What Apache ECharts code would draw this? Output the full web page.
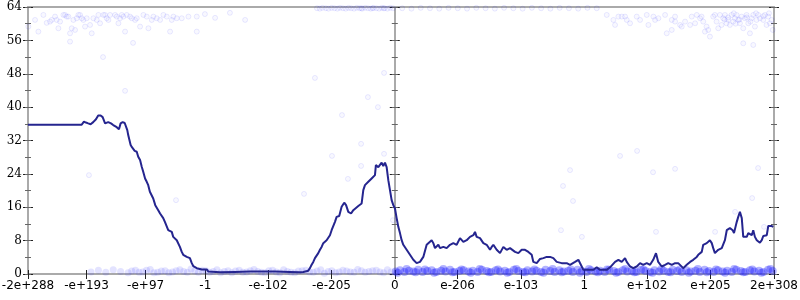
<!DOCTYPE html>
<html><head><meta charset="utf-8">
<script src="https://cdn.jsdelivr.net/npm/echarts@6/dist/echarts.min.js"></script>
<style>html,body{margin:0;padding:0;background:#fff}#c{width:800px;height:300px}</style>
</head><body><div id="c"></div>
<script>
// x axis: binary-exponent position of the (signed) float; ticks with their labels
const tickValues = [-1980,-1664,-1345,-1023,-684,-342,0,339,681,1023,1362,1704,2047];
const tickLabels = ['-2e+288','-e+193','-e+97','-1','-e-102','-e-205','0','e-206','e-103','1','e+102','e+205','2e+308'];
const xMin = -1980, xMax = 2047;
const yMin = 0, yMax = 64, yStep = 8, yMinorStep = 4;

// moving-average line
const lineX = [-1980,-1690,-1678,-1667,-1655,-1642,-1628,-1613,-1601,-1588,-1577,-1564,-1555,-1547,-1532,-1520,-1501,-1489,-1480,-1469,-1458,-1451,-1444,-1439,-1433,-1426,-1419,-1412,-1404,-1393,-1385,-1375,-1366,-1358,-1348,-1339,-1331,-1322,-1312,-1304,-1293,-1285,-1277,-1267,-1258,-1250,-1241,-1231,-1223,-1214,-1204,-1196,-1187,-1177,-1169,-1160,-1150,-1142,-1123,-1106,-1096,-1088,-1079,-1069,-1042,-1015,-1007,-998,-944,-863,-782,-717,-647,-566,-512,-494,-467,-458,-449,-440,-431,-422,-413,-404,-395,-386,-377,-368,-359,-350,-341,-323,-314,-300,-287,-273,-263,-251,-236,-224,-197,-179,-170,-161,-143,-125,-107,-102,-89,-80,-71,-62,-53,-44,-35,-26,-17,-8,1,10,19,28,37,46,55,64,82,100,118,136,154,172,181,199,208,217,226,235,244,262,280,298,316,334,352,370,388,406,424,433,442,460,478,496,514,523,532,550,568,586,604,622,649,667,685,703,721,739,748,766,784,802,820,838,856,874,901,928,946,973,991,1009,1018,1054,1072,1090,1108,1144,1162,1171,1189,1207,1225,1243,1252,1270,1287,1306,1324,1341,1360,1378,1395,1410,1422,1441,1459,1476,1495,1513,1530,1557,1576,1594,1611,1630,1638,1657,1665,1684,1701,1711,1719,1728,1746,1765,1773,1782,1792,1809,1824,1831,1846,1854,1863,1873,1881,1890,1900,1908,1917,1927,1935,1944,1954,1971,1981,1989,2008,2016,2035,2043];
const lineY = [35.8,35.8,36.5,36.3,36.1,35.9,36.4,37.1,38.0,38.0,37.6,36.1,35.8,36.4,36.1,35.7,35.2,34.7,36.1,36.4,36.2,35.8,34.5,33.3,33.2,30.9,30.4,30.5,29.5,29.3,28.1,27.3,25.7,24.5,22.9,22.1,21.3,19.7,19.7,18.1,16.5,16.1,15.3,14.5,14.4,13.4,12.5,12.1,10.5,10.1,10.1,8.9,8.6,8.1,7.7,6.5,5.3,4.6,4.1,3.8,2.6,1.9,1.8,1.4,1.1,1.1,0.6,0.4,0.4,0.5,0.6,0.6,0.6,0.5,0.4,0.5,0.8,1.4,2.2,2.9,3.8,4.1,5.0,5.8,6.5,7.4,7.7,8.1,8.1,9.3,10.5,12.5,13.7,13.9,16.1,17.1,16.5,14.9,14.5,15.3,16.3,16.9,20.1,21.3,22.1,22.9,23.7,26.1,25.6,25.3,26.7,25.9,26.7,25.6,22.5,20.1,17.7,16.5,15.7,13.4,11.3,9.8,8.1,7.0,7.0,5.8,4.6,3.4,2.6,2.9,4.1,7.0,7.4,8.1,7.4,6.2,6.5,7.0,6.2,6.5,6.2,7.0,7.4,7.0,8.6,7.7,8.1,8.9,9.3,10.1,8.9,8.6,7.4,7.0,5.8,6.5,7.0,5.8,5.0,6.5,5.8,6.2,5.3,5.0,5.8,5.8,5.3,4.6,2.9,2.6,3.6,3.8,4.1,4.1,3.8,2.9,2.6,2.6,2.2,2.9,3.4,1.8,1.0,1.0,1.0,1.6,1.0,1.0,1.6,1.8,2.9,3.4,2.9,3.8,2.9,1.8,1.4,1.8,2.6,2.2,2.6,2.2,3.4,5.0,2.9,1.8,2.2,2.6,2.2,2.6,2.6,1.4,2.2,2.9,3.4,4.1,4.6,5.3,7.0,7.4,8.1,7.4,6.2,5.0,5.8,6.2,6.5,8.1,10.5,11.0,10.5,9.8,12.5,13.7,14.9,13.4,8.9,9.3,8.9,9.8,10.1,9.3,10.5,8.9,8.1,7.5,8.1,9.1,9.3,11.5,11.5,11.3];

// individual samples (faint points)
const topLeftPts = [[-1978,59.3],[-1942,60.9],[-1924,58.1],[-1897,62.1],[-1879,60.2],[-1861,60.5],[-1852,60.9],[-1834,61.7],[-1825,60.9],[-1816,58.9],[-1807,60.5],[-1789,62.1],[-1780,62.1],[-1771,61.7],[-1762,61.7],[-1753,57.7],[-1753,55.7],[-1744,58.9],[-1735,60.9],[-1726,58.5],[-1717,61.3],[-1708,62.1],[-1699,62.1],[-1690,61.3],[-1681,60.9],[-1672,59.3],[-1663,61.3],[-1645,59.7],[-1636,57.7],[-1627,61.3],[-1609,60.9],[-1600,62.1],[-1591,60.1],[-1573,62.1],[-1564,62.1],[-1555,61.3],[-1546,60.9],[-1537,62.1],[-1510,62.1],[-1501,61.7],[-1492,60.1],[-1483,61.3],[-1474,62.1],[-1465,61.7],[-1456,58.1],[-1447,62.1],[-1429,61.7],[-1420,61.3],[-1402,60.9],[-1393,61.3],[-1375,59.3],[-1357,62.1],[-1339,61.7],[-1330,58.9],[-1312,60.9],[-1303,61.7],[-1285,61.3],[-1267,60.9],[-1249,62.1],[-1231,61.7],[-1213,58.1],[-1204,60.9],[-1195,61.7],[-1177,61.3],[-1150,61.3],[-1114,61.7],[-1069,58.1],[-1069,61.7],[-1025,62.3],[-970,61.4],[-890,62.6],[-808,60.9]];
const topRightPts = [[1144,62.1],[1180,60.9],[1189,59.7],[1207,61.7],[1225,61.7],[1243,61.7],[1252,60.9],[1270,60.1],[1306,61.7],[1324,60.9],[1360,62.1],[1369,59.7],[1396,61.7],[1405,60.9],[1423,61.3],[1459,62.1],[1468,57.7],[1495,60.9],[1495,58.5],[1513,61.7],[1513,60.5],[1540,59.7],[1549,59.3],[1567,60.5],[1594,59.7],[1603,61.7],[1621,60.1],[1630,62.1],[1648,61.3],[1656,61.7],[1665,60.5],[1674,58.1],[1683,59.3],[1692,58.5],[1701,56.9],[1719,61.7],[1728,62.1],[1737,60.5],[1746,58.9],[1755,62.1],[1764,59.7],[1773,61.3],[1782,62.1],[1791,60.1],[1800,60.9],[1809,59.7],[1818,62.1],[1827,60.5],[1836,61.3],[1845,62.1],[1854,60.9],[1863,60.1],[1872,61.7],[1881,55.3],[1881,58.9],[1890,61.3],[1899,62.1],[1908,60.1],[1917,57.7],[1926,61.3],[1935,62.1],[1935,54.9],[1944,59.3],[1953,60.9],[1962,62.1],[1971,61.3],[1989,60.9],[1998,62.1],[2007,59.7],[2016,61.7],[2025,60.1],[2034,60.9],[2040,58.5],[1800,61.5],[1830,62.5],[1860,61.0],[1900,61.5],[1950,62.5],[1990,61.8],[2020,62.5],[1780,61.0],[1840,60.0],[1920,60.5]];
const topEdgePts = [[-420,63.7],[-405,63.6],[-390,63.8],[-372,63.7],[-358,63.6],[-341,63.8],[-326,63.7],[-310,63.6],[-296,63.8],[-280,63.7],[-265,63.6],[-250,63.8],[-236,63.7],[-220,63.6],[-205,63.8],[-190,63.7],[-176,63.6],[-160,63.8],[-145,63.7],[-130,63.6],[-115,63.8],[-100,63.7],[-85,63.6],[-70,63.8],[-55,63.7],[-40,63.6],[-25,63.8],[-10,63.7],[-180,63.7],[-120,63.7],[-60,63.7],[40,63.7],[90,63.6],[140,63.8],[190,63.7],[240,63.6],[290,63.8],[340,63.7],[390,63.6],[440,63.8],[490,63.7],[540,63.6],[590,63.8],[640,63.7],[690,63.6],[740,63.8],[790,63.7],[840,63.6],[890,63.8],[940,63.7],[990,63.6],[1040,63.8],[1090,63.7]];
const scatteredPts = [[-1575,52.0],[-1456,43.9],[-1413,55.4],[-1651,23.7],[-1181,17.7],[-145,42.4],[-91,40.0],[-285,38.1],[-182,31.2],[-339,28.3],[-182,25.9],[-253,22.8],[-490,19.2],[-58,28.8],[-10,12.9],[1216,28.3],[1308,29.5],[946,24.9],[908,21.1],[962,17.5],[1394,24.4],[1513,25.2],[1961,25.4],[1929,18.2],[1410,10.1],[897,10.5],[1010,8.9],[1729,10.1],[1993,11.3],[1837,14.9],[-431,47.0],[-58,48.2]];
const bottomLeftPts = [[-1640,0.5],[-1600,0.9],[-1560,0.4],[-1520,1.0],[-1480,0.6],[-1440,0.3],[-1400,0.9],[-1360,0.5],[-1320,1.1],[-1280,0.4],[-1240,0.8],[-1200,0.5],[-1160,1.0],[-1120,0.4],[-1080,0.7],[-1040,0.9],[-1000,0.4],[-960,1.0],[-920,0.6],[-880,0.3],[-840,0.9],[-800,0.5],[-760,1.1],[-720,0.4],[-680,0.8],[-640,0.5],[-600,1.0],[-560,0.4],[-520,0.7],[-480,0.9],[-440,0.4],[-400,1.0],[-360,0.6],[-320,0.3],[-280,0.9],[-240,0.5],[-200,1.1],[-160,0.4],[-120,0.8],[-80,0.5],[-40,1.0],[-1300,0.3],[-1100,1.2],[-900,0.8],[-620,0.3],[-380,0.2],[-180,0.8],[-60,0.3],
  [-1420,0.7],[-1380,0.4],[-1340,0.9],[-1260,0.7],[-1220,0.3],[-1180,0.8],[-1140,0.6],[-1060,0.4],[-1020,0.8],[-980,0.6],[-940,0.3],[-860,0.7],[-820,0.4],[-780,0.8],[-740,0.6],[-700,0.3],[-660,0.9],[-580,0.6],[-540,0.3],[-500,0.8],[-460,0.5],[-420,0.7],[-340,0.8],[-300,0.5],[-260,0.7],[-220,0.4],[-140,0.6],[-100,0.9],[-20,0.5]];
const bottomRightPts = [[5,0.6],[28,0.9],[52,0.5],[77,0.8],[101,0.6],[126,1.0],[150,0.5],[176,0.7],[199,0.9],[224,0.5],[250,0.8],[274,0.6],[298,1.0],[323,0.5],[349,0.7],[372,0.9],[398,0.6],[421,0.8],[447,0.5],[470,1.0],[496,0.7],[520,0.5],[545,0.9],[569,0.6],[594,0.8],[618,0.5],[643,1.0],[667,0.7],[692,0.5],[716,0.9],[741,0.6],[765,0.8],[790,0.5],[814,1.0],[839,0.7],[863,0.5],[888,0.9],[912,0.6],[937,0.8],[961,0.5],[986,1.0],[1010,0.7],[1035,0.5],[1059,0.9],[1084,0.6],[1108,0.8],[1133,0.5],[1157,1.0],[1182,0.7],[1206,0.5],[1231,0.9],[1255,0.6],[1280,0.8],[1304,0.5],[1329,1.0],[1353,0.7],[1378,0.5],[1402,0.9],[1427,0.6],[1451,0.8],[1476,0.5],[1500,1.0],[1525,0.7],[1549,0.5],[1574,0.9],[1598,0.6],[1623,0.8],[1647,0.5],[1672,1.0],[1696,0.7],[1721,0.5],[1745,0.9],[1770,0.6],[1794,0.8],[1819,0.5],[1843,1.0],[1868,0.7],[1892,0.5],[1917,0.9],[1941,0.6],[1966,0.8],[1990,0.5],[2015,1.0],[2040,0.7],
  [15,0.3],[64,1.2],[113,0.4],[163,1.1],[212,0.3],[262,1.2],[311,0.4],[360,1.1],[410,0.3],[459,1.2],[508,0.4],[557,1.1],[607,0.3],[656,1.2],[705,0.4],[754,1.1],[803,0.3],[852,1.2],[901,0.4],[950,1.1],[999,0.3],[1048,1.2],[1097,0.4],[1146,1.1],[1195,0.3],[1244,1.2],[1293,0.4],[1342,1.1],[1391,0.3],[1440,1.2],[1489,0.4],[1538,1.1],[1587,0.3],[1636,1.2],[1685,0.4],[1734,1.1],[1783,0.3],[1832,1.2],[1881,0.4],[1930,1.1],[1979,0.3],[2028,1.2]];

const chart = echarts.init(document.getElementById('c'), null, {renderer:'canvas'});
const GRAY = '#aaaaaa', TICK = '#222222', MINOR = '#666666';
const G = {left:28, right:26, top:7, bottom:26};
const plotW = 800 - G.left - G.right;
const zeroPx = G.left + plotW * (0 - xMin) / (xMax - xMin);

function lineAxis(extra){
  return Object.assign({type:'value', min:yMin, max:yMax, interval:yStep,
    axisLine:{show:true, onZero:false, lineStyle:{color:GRAY, width:2}},
    axisTick:{show:false}, axisLabel:{show:false}, splitLine:{show:false}}, extra);
}
function tickAxis(extra){
  return Object.assign({type:'value', min:yMin, max:yMax, interval:yStep,
    axisLine:{show:false, onZero:false}, axisLabel:{show:false}, splitLine:{show:false},
    axisTick:{show:true, length:10, lineStyle:{color:TICK, width:1}}}, extra);
}
function minorAxis(extra){
  return tickAxis(Object.assign({interval:yMinorStep, axisTick:{show:true, length:6, lineStyle:{color:MINOR, width:1}}}, extra));
}
const labelMap = {};
tickValues.forEach((v,i)=>{labelMap[v]=tickLabels[i];});

const faint = {color:'rgba(0,0,255,0.035)', borderColor:'rgba(0,0,255,0.11)', borderWidth:1};

chart.setOption({
  animation:false,
  grid:[
    Object.assign({outerBoundsMode:'none'}, G),
    {left:zeroPx, right:G.right, top:G.top, bottom:G.bottom, outerBoundsMode:'none'}
  ],
  xAxis:[
    {type:'value', min:xMin, max:xMax, position:'bottom',
      axisLine:{show:true, onZero:false, lineStyle:{color:GRAY, width:2}},
      axisTick:{show:false}, splitLine:{show:false},
      axisLabel:{customValues:tickValues, formatter:(v)=>labelMap[v]!==undefined?labelMap[v]:'', color:'#000',
        fontFamily:'DejaVu Sans', fontSize:12, margin:6, hideOverlap:false}},
    {type:'value', min:xMin, max:xMax, position:'top',
      axisLine:{show:true, onZero:false, lineStyle:{color:GRAY, width:2}},
      axisTick:{show:false}, axisLabel:{show:false}, splitLine:{show:false}},
    {type:'value', min:xMin, max:xMax, position:'bottom', offset:-4,
      axisLine:{show:false, onZero:false}, axisLabel:{show:false}, splitLine:{show:false},
      axisTick:{show:true, customValues:tickValues, length:9, lineStyle:{color:TICK, width:1}}},
    {type:'value', gridIndex:1, min:0, max:xMax, show:false, axisLine:{onZero:false}}
  ],
  yAxis:[
    lineAxis({position:'left',
      axisLabel:{show:true, color:'#000', fontFamily:'DejaVu Serif', fontSize:12, margin:6}}),
    tickAxis({position:'left', offset:-5}),
    minorAxis({position:'left', offset:-3}),
    lineAxis({position:'right'}),
    tickAxis({position:'right', offset:-5}),
    minorAxis({position:'right', offset:-3}),
    lineAxis({gridIndex:1, position:'left'}),
    tickAxis({gridIndex:1, position:'left', offset:-5}),
    minorAxis({gridIndex:1, position:'left', offset:-3})
  ],
  series:[
    {type:'scatter', silent:true, symbolSize:5, itemStyle:faint,
      data:[].concat(topLeftPts, topRightPts, topEdgePts, scatteredPts)},
    {type:'scatter', silent:true, symbolSize:7, clip:false,
      itemStyle:{color:'rgba(40,40,255,0.16)', borderWidth:0},
      data:bottomLeftPts},
    {type:'scatter', silent:true, symbolSize:8, clip:false,
      itemStyle:{color:'rgba(30,30,255,0.42)', borderWidth:0},
      data:bottomRightPts},
    {type:'line', showSymbol:false, silent:true, z:5,
      lineStyle:{color:'#25258f', width:2},
      data:lineX.map((x,i)=>[x, lineY[i]])}
  ]
});
</script></body></html>
